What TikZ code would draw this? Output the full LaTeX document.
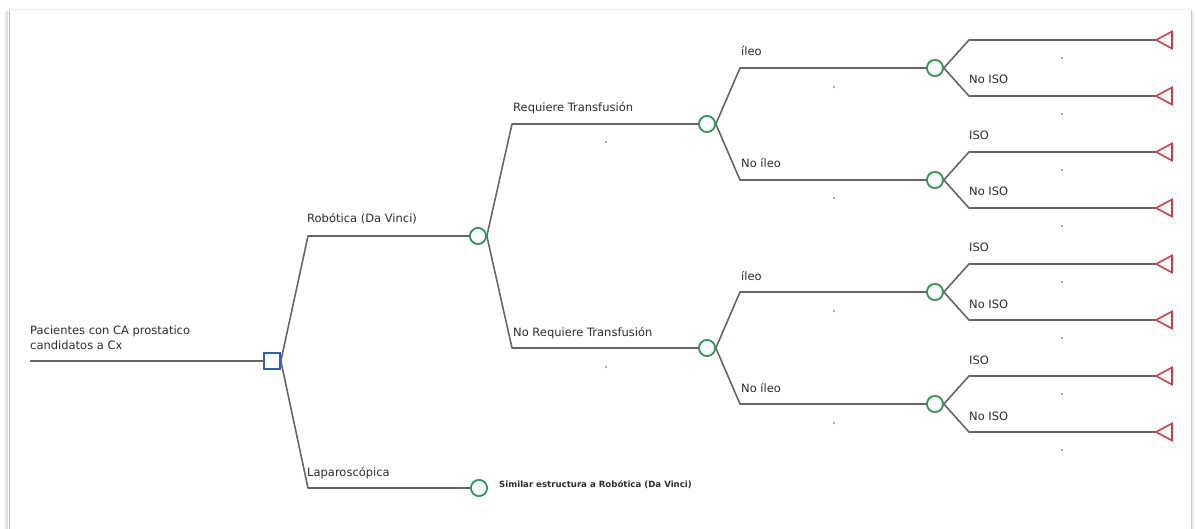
\documentclass[tikz,border=0pt]{standalone}
\usepackage{fontspec}
\setmainfont{DejaVu Sans}
\definecolor{edgegray}{HTML}{666666}
\definecolor{txtgray}{HTML}{2E2E2E}
\definecolor{chgreen}{HTML}{2F9A55}
\definecolor{decblue}{HTML}{2F5FB8}
\definecolor{termred}{HTML}{D93A47}
\begin{document}
\begin{tikzpicture}[x=1pt,y=-1pt,
  edge/.style={draw=edgegray,line width=1.6pt,line join=round},
  chance/.style={circle,draw=chgreen,line width=1.7pt,fill=white,minimum size=16pt,inner sep=0pt},
  decision/.style={rectangle,draw=decblue,line width=1.7pt,fill=white,minimum size=16pt,inner sep=0pt},
  term/.style={draw=termred,line width=1.6pt,fill=white,line join=miter},
  lbl/.style={anchor=base west,inner sep=0pt,text=txtgray,font=\fontsize{11.5}{15}\selectfont},
  smallbold/.style={anchor=base west,inner sep=0pt,text=txtgray,font=\fontsize{8.6}{10}\selectfont\bfseries},
  dotn/.style={circle,fill=gray!85,minimum size=2.2pt,inner sep=0pt}
]
\useasboundingbox (0,0) rectangle (1196,529);
% frame with shadow
\fill[white] (9,10) rectangle (1191,529);
\draw[gray!10,line width=2pt] (5,12) -- (5,529);
\draw[gray!25,line width=1.5pt] (7,11) -- (7,529);
\draw[gray!55,line width=1pt] (9,10) -- (9,529);
\draw[gray!15,line width=1pt] (9,10) -- (1191,10);
\draw[gray!40,line width=1pt] (1191,10) -- (1191,529);
\draw[gray!15,line width=1.5pt] (1193,12) -- (1193,529);

% nodes
\node[decision] (d) at (272,361) {};
\node[chance] (c1) at (478,236) {};
\node[chance] (cL) at (479,488) {};
\node[chance] (c2) at (707,124) {};
\node[chance] (c3) at (707,348) {};
\node[chance] (c4) at (935,68) {};
\node[chance] (c5) at (935,180) {};
\node[chance] (c6) at (935,292) {};
\node[chance] (c7) at (935,404) {};

% bends
\coordinate (root) at (30,361);
\coordinate (bRob) at (308,236);
\coordinate (bLap) at (308,488);
\coordinate (bRT) at (512,124);
\coordinate (bNRT) at (512,348);
\coordinate (b4) at (740,68);
\coordinate (b5) at (740,180);
\coordinate (b6) at (740,292);
\coordinate (b7) at (740,404);
\foreach \i/\y in {1/40,2/96,3/152,4/208,5/264,6/320,7/376,8/432}{
  \coordinate (e\i) at (969,\y);
  \coordinate (t\i) at (1156,\y);
}

% connectors
\draw[edge] (root) -- (d.west);
\draw[edge] (d.east) -- (bRob) -- (c1.west);
\draw[edge] (d.east) -- (bLap) -- (cL.west);
\draw[edge] (c1.east) -- (bRT) -- (c2.west);
\draw[edge] (c1.east) -- (bNRT) -- (c3.west);
\draw[edge] (c2.east) -- (b4) -- (c4.west);
\draw[edge] (c2.east) -- (b5) -- (c5.west);
\draw[edge] (c3.east) -- (b6) -- (c6.west);
\draw[edge] (c3.east) -- (b7) -- (c7.west);
\draw[edge] (c4.east) -- (e1) -- (t1);
\draw[edge] (c4.east) -- (e2) -- (t2);
\draw[edge] (c5.east) -- (e3) -- (t3);
\draw[edge] (c5.east) -- (e4) -- (t4);
\draw[edge] (c6.east) -- (e5) -- (t5);
\draw[edge] (c6.east) -- (e6) -- (t6);
\draw[edge] (c7.east) -- (e7) -- (t7);
\draw[edge] (c7.east) -- (e8) -- (t8);

% redraw node shapes on top
\node[decision] at (d) {};
\foreach \n in {c1,cL,c2,c3,c4,c5,c6,c7}{\node[chance] at (\n) {};}
\foreach \i in {1,...,8}{
  \draw[term] (t\i) -- ++(16,-8.5) -- ++(0,17) -- cycle;
}

% labels
\node[lbl,align=left,anchor=base west] (lroot) at (30,349) {Pacientes con CA prostatico\\candidatos a Cx};
\node[lbl] (lRob) at (307,223) {Robótica (Da Vinci)};
\node[lbl] (lLap) at (307,476) {Laparoscópica};
\node[smallbold] (lSim) at (499,487) {Similar estructura a Robótica (Da Vinci)};
\node[lbl] (lRT) at (513,112) {Requiere Transfusión};
\node[lbl] (lNRT) at (513,336) {No Requiere Transfusión};
\node[lbl] (l4) at (741,56) {íleo};
\node[lbl] (l5) at (741,168) {No íleo};
\node[lbl] (l6) at (741,280) {íleo};
\node[lbl] (l7) at (741,392) {No íleo};
\node[lbl] (m2) at (969,84) {No ISO};
\node[lbl] (m3) at (969,140) {ISO};
\node[lbl] (m4) at (969,196) {No ISO};
\node[lbl] (m5) at (969,252) {ISO};
\node[lbl] (m6) at (969,308) {No ISO};
\node[lbl] (m7) at (969,364) {ISO};
\node[lbl] (m8) at (969,420) {No ISO};

% dots
\node[dotn] (p1) at (606,142) {};
\node[dotn] (p2) at (606,367) {};
\node[dotn] (p3) at (834,87) {};
\node[dotn] (p4) at (834,198) {};
\node[dotn] (p5) at (834,311) {};
\node[dotn] (p6) at (834,423) {};
\foreach \i/\y in {1/58,2/114,3/170,4/226,5/282,6/338,7/394,8/450}{
  \node[dotn] (q\i) at (1062,\y) {};
}
\end{tikzpicture}
\end{document}
